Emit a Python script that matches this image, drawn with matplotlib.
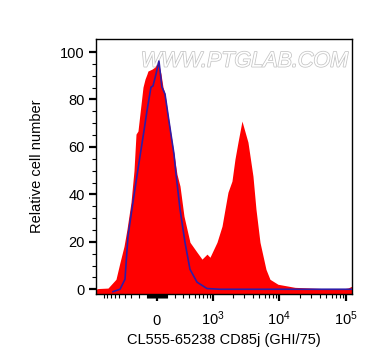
import numpy as np
import matplotlib
matplotlib.use('Agg')
import matplotlib.pyplot as plt
import matplotlib.patheffects as pe

plt.rcParams['font.family'] = ['Liberation Sans', 'DejaVu Sans']
plt.rcParams['mathtext.fontset'] = 'custom'
plt.rcParams['mathtext.rm'] = 'Liberation Sans'

# stained sample (red, filled)
sample_x = [-1195, -1112, -775, -574, -489, -415, -365, -303, -261, -234, -209, -149, -126,
            -105, -94, -51, -20, 0, 20, 41, 62, 83, 126, 184, 221, 261, 318, 415, 552, 668,
            804, 896, 1152, 1377, 1529, 1696, 1949, 2164, 2402, 2757, 3391, 4029, 4467, 5132,
            6306, 7232, 9521, 17080, 43200, 80200, 105600, 121000]
sample_y = [0.0, 0.3, 0.5, 4.2, 11.4, 18.1, 25.3, 36.7, 50.0, 65.4, 66.7, 85.2, 88.6,
            90.7, 92.0, 92.8, 93.7, 95.0, 94.5, 90.7, 85.2, 82.3, 70.9, 57.0, 48.5, 43.5, 30.8, 19.8, 15.6, 12.7,
            14.8, 13.5, 19.8, 26.6, 33.8, 40.9, 45.6, 54.9, 62.0, 70.9, 62.0, 47.7, 33.8, 19.8,
            8.4, 4.2, 2.1, 0.8, 0.3, 0.0, 0.5, 1.3]

# isotype control (blue line)
control_x = [-643, -489, -398, -349, -275, -209, -138, -105, -62, -41, -10, 20, 51, 83, 126,
             184, 209, 261, 333, 415, 552, 804, 1281, 121000]
control_y = [-1.0, 0.0, 4.2, 22.4, 36.7, 50.6, 66.7, 75.1, 85.2, 85.7, 90.7, 96.2, 85.2, 82.3, 70.9,
             57.0, 48.5, 33.8, 19.8, 8.4, 3.0, 0.3, 0.0, 0.0]

x_major = [0, 1e3, 1e4, 1e5]
x_major_labels = ['0', r'$\mathregular{10^3}$', r'$\mathregular{10^4}$', r'$\mathregular{10^5}$']
y_major = [0, 20, 40, 60, 80, 100]

C = 298.0
def fwd(v):
    return np.arcsinh(np.asarray(v, dtype=float) / C)
def inv(v):
    return C * np.sinh(np.asarray(v, dtype=float))

fig = plt.figure(figsize=(3.72, 3.64), dpi=100)
ax = fig.add_axes([0.258, 0.1923, 0.688, 0.7006])
ax.set_xscale('function', functions=(fwd, inv))
ax.set_xlim(-1195, 121000)
ax.set_ylim(-2, 105.5)

ax.text(0.58, 0.913, 'WWW.PTGLAB.COM', transform=ax.transAxes, ha='center', va='center',
        fontsize=15.5, color='white', style='italic', zorder=0,
        path_effects=[pe.withStroke(linewidth=1.1, foreground='#c4c4c4')])

ax.fill_between(sample_x, sample_y, -2, color='#ff0000', lw=0, zorder=2)
ax.plot(control_x, control_y, color='#2e1ca8', lw=1.2, zorder=3)

minors = []
for d in [10, 100, 1000, 10000]:
    for m in range(1, 10):
        v = m * d
        if v not in x_major:
            minors.append(v)
            if v <= 1000:
                minors.append(-v)
ax.set_xticks(x_major)
ax.set_xticklabels(x_major_labels)
ax.set_xticks(sorted(minors), minor=True)
ax.set_yticks(y_major)
ax.set_yticks(np.arange(0, 101, 5), minor=True)

ax.tick_params(axis='both', which='major', length=5, width=1.6, labelsize=10.5, direction='out')
ax.tick_params(axis='both', which='minor', length=3, width=0.8, direction='out')
ax.tick_params(axis='x', which='major', pad=17)
for lab in ax.get_xticklabels():
    lab.set_va('baseline')
ax.tick_params(axis='y', which='major', pad=3)

for s in ax.spines.values():
    s.set_linewidth(1.0)

ax.set_xlabel('CL555-65238 CD85j (GHI/75)', fontsize=10.5, labelpad=4)
ax.set_ylabel('Relative cell number', fontsize=10.5, labelpad=12)

fig.savefig('out.png', dpi=100)
